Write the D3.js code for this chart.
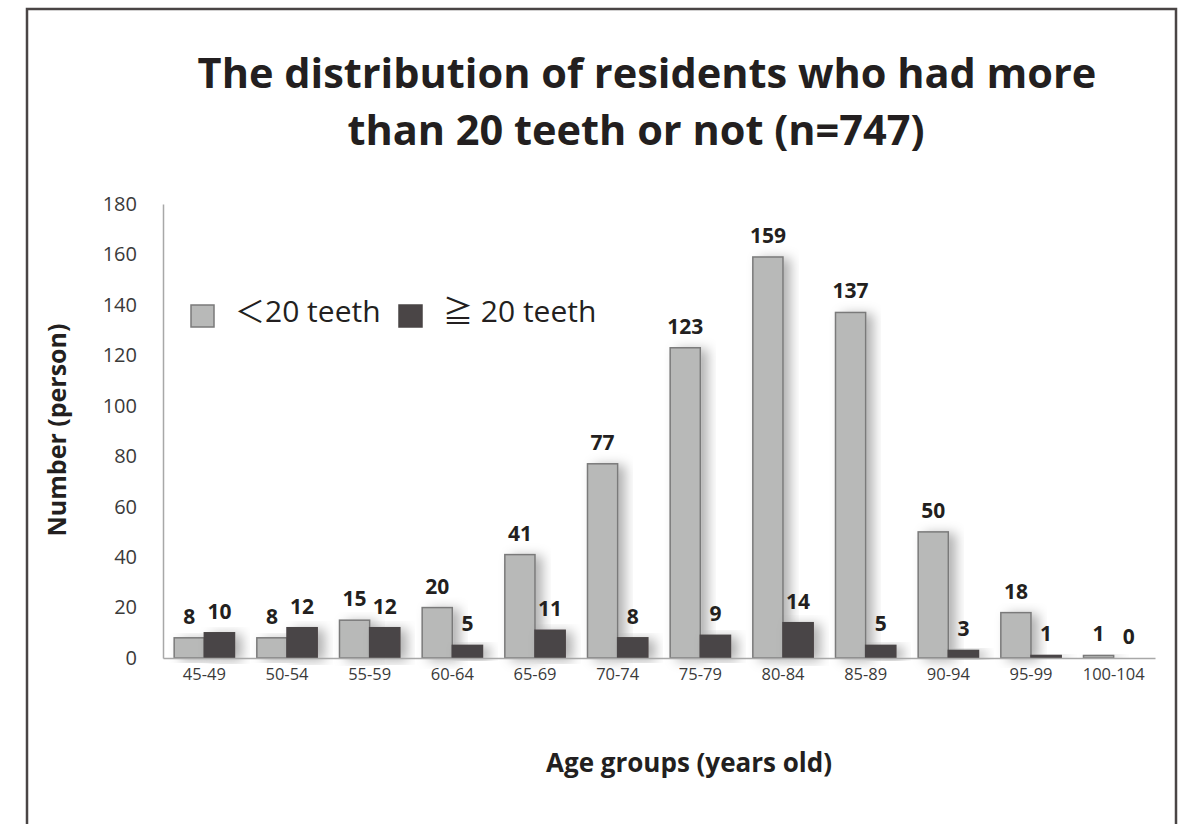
<!DOCTYPE html>
<html>
<head>
<meta charset="utf-8">
<script src="https://cdn.jsdelivr.net/npm/d3@7"></script>
<style>
  body { margin: 0; background: #fff; }
  svg { display: block; font-family: "Open Sans", "Noto Sans", sans-serif; }
</style>
</head>
<body>
<script>
const ageGroups = ["45-49", "50-54", "55-59", "60-64", "65-69", "70-74", "75-79", "80-84", "85-89", "90-94", "95-99", "100-104"];
const lessThan20 = [8, 8, 15, 20, 41, 77, 123, 159, 137, 50, 18, 1];
const atLeast20 = [10, 12, 12, 5, 11, 8, 9, 14, 5, 3, 1, 0];
const yTicks = [0, 20, 40, 60, 80, 100, 120, 140, 160, 180];
const seriesNames = ["＜20 teeth", "≧ 20 teeth"];
const colors = ["#b8b9b8", "#4a4546"];

const svgWidth = 1186;
const svgHeight = 824;
const margin = {left: 163, right: 31, top: 204, bottom: 166};

const svg = d3.select("body")
    .append("svg")
    .attr("width", svgWidth)
    .attr("height", svgHeight);

// soft shadow to the right of the bars
const defs = svg.append("defs");
const shadow = defs.append("filter")
    .attr("id", "shadow")
    .attr("x", "-50%").attr("y", "-20%")
    .attr("width", "200%").attr("height", "140%");
shadow.append("feDropShadow")
    .attr("dx", 7).attr("dy", 2)
    .attr("stdDeviation", 6)
    .attr("flood-color", "#000")
    .attr("flood-opacity", 0.3);

// outer frame (no bottom edge visible)
svg.append("path")
    .attr("d", `M27,${svgHeight} V9 H1176 V${svgHeight}`)
    .attr("fill", "none")
    .attr("stroke", "#4a4545")
    .attr("stroke-width", 2.5);

svg.append("text")
    .attr("x", 647).attr("y", 88)
    .attr("text-anchor", "middle")
    .style("font-size", "41.5px").style("font-weight", "bold")
    .attr("fill", "#231f20")
    .text("The distribution of residents who had more");
svg.append("text")
    .attr("x", 636).attr("y", 145)
    .attr("text-anchor", "middle")
    .style("font-size", "41.5px").style("font-weight", "bold")
    .attr("fill", "#231f20")
    .text("than 20 teeth or not (n=747)");

const x = d3.scaleBand()
    .domain(ageGroups)
    .range([margin.left, svgWidth - margin.right])
    .paddingInner(0.27)
    .paddingOuter(0.135);

const sub = d3.scaleBand()
    .domain([0, 1])
    .range([0, x.bandwidth()]);

const y = d3.scaleLinear()
    .domain([0, 180])
    .range([svgHeight - margin.bottom, margin.top]);

// y axis
const yAxis = svg.append("g")
    .attr("transform", `translate(${margin.left},0)`)
    .call(d3.axisLeft(y).tickValues(yTicks).tickSize(0).tickPadding(8));
yAxis.select(".domain").attr("stroke", "#a8a8a8").attr("stroke-width", 1.5);
yAxis.selectAll("text")
    .attr("x", -26)
    .attr("fill", "#3a3a3a")
    .style("font-size", "20px")
    .style("font-family", "\"Open Sans\", sans-serif");

const groups = svg.append("g")
    .selectAll("g")
    .data(ageGroups)
    .enter()
    .append("g")
    .attr("transform", d => `translate(${x(d)},0)`);

const pairs = (d, i) => [
    {s: 0, v: lessThan20[i]},
    {s: 1, v: atLeast20[i]}
];

groups.selectAll("rect")
    .data(pairs)
    .enter()
    .append("rect")
    .attr("x", d => sub(d.s))
    .attr("y", d => y(d.v))
    .attr("width", sub.bandwidth())
    .attr("height", d => y(0) - y(d.v))
    .attr("fill", d => colors[d.s])
    .attr("stroke", d => d.s === 0 ? "#7a7a7a" : "#4a4546")
    .attr("stroke-width", 1.5)
    .attr("filter", "url(#shadow)");

groups.selectAll("text.val")
    .data(pairs)
    .enter()
    .append("text")
    .attr("class", "val")
    .attr("x", d => sub(d.s) + sub.bandwidth() / 2)
    .attr("y", d => y(d.v) - 14)
    .attr("text-anchor", "middle")
    .attr("fill", "#231f20")
    .style("font-size", "21px")
    .style("font-weight", "bold")
    .text(d => d.v);

// x axis
const xAxis = svg.append("g")
    .attr("transform", `translate(0,${y(0)})`)
    .call(d3.axisBottom(x).tickSize(0).tickPadding(10));
xAxis.select(".domain").attr("stroke", "#a8a8a8").attr("stroke-width", 1.5);
xAxis.selectAll("text")
    .attr("fill", "#3a3a3a")
    .style("font-size", "16.5px")
    .style("font-family", "\"Open Sans\", sans-serif");

svg.append("text")
    .attr("x", 689).attr("y", 772)
    .attr("text-anchor", "middle")
    .attr("fill", "#231f20")
    .style("font-size", "26px").style("font-weight", "bold")
    .text("Age groups (years old)");

svg.append("text")
    .attr("transform", "translate(66,430) rotate(-90)")
    .attr("text-anchor", "middle")
    .attr("fill", "#231f20")
    .style("font-size", "25px").style("font-weight", "bold")
    .text("Number (person)");

// legend
const legendX = [191, 399];
const legend = svg.append("g")
    .selectAll("g")
    .data(seriesNames)
    .enter()
    .append("g")
    .attr("transform", (d, i) => `translate(${legendX[i]},305)`);
legend.append("rect")
    .attr("width", 23).attr("height", 22)
    .attr("fill", (d, i) => colors[i])
    .attr("stroke", (d, i) => i === 0 ? "#7a7a7a" : colors[i])
    .attr("stroke-width", 1.5);
legend.append("text")
    .attr("x", 44)
    .attr("y", 17)
    .attr("fill", "#231f20")
    .style("font-size", "30px")
    .style("font-family", "\"Open Sans\", \"Noto Sans CJK JP\", sans-serif")
    .text(d => d);
</script>
</body>
</html>
